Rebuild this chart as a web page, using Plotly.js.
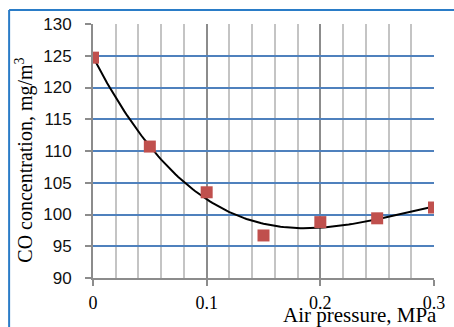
<!DOCTYPE html>
<html>
<head>
<meta charset="utf-8">
<script src="https://cdn.plot.ly/plotly-3.0.1.min.js"></script>
<style>html,body{margin:0;padding:0;background:#fff;}#chart{width:454px;height:327px;}</style>
</head>
<body>
<div id="chart"></div>
<script>
// Data
const airPressure = [0, 0.05, 0.1, 0.15, 0.2, 0.25, 0.3];
const coConcentration = [124.7, 110.7, 103.5, 96.7, 98.8, 99.4, 101.1];
const xTickVals = [0, 0.1, 0.2, 0.3];
const xTickText = ['0', '0.1', '0.2', '0.3'];
const yTickVals = [90, 95, 100, 105, 110, 115, 120, 125, 130];

// Polynomial (3rd order) trendline computed from the data, as the spreadsheet trendline does
function polyFit(xs, ys, order) {
  const n = order + 1;
  const A = [];
  for (let i = 0; i < n; i++) {
    A.push(new Array(n + 1).fill(0));
    for (let j = 0; j < n; j++) {
      A[i][j] = xs.reduce((s, x) => s + Math.pow(x, i + j), 0);
    }
    A[i][n] = xs.reduce((s, x, k) => s + Math.pow(x, i) * ys[k], 0);
  }
  for (let c = 0; c < n; c++) {
    let p = c;
    for (let r = c + 1; r < n; r++) if (Math.abs(A[r][c]) > Math.abs(A[p][c])) p = r;
    [A[c], A[p]] = [A[p], A[c]];
    for (let r = 0; r < n; r++) {
      if (r === c) continue;
      const f = A[r][c] / A[c][c];
      for (let k = c; k <= n; k++) A[r][k] -= f * A[c][k];
    }
  }
  return A.map((row, i) => row[n] / row[i]);
}
const coef = polyFit(airPressure, coConcentration, 3);
const trendX = [];
const trendY = [];
const xMin = airPressure[0], xMax = airPressure[airPressure.length - 1];
for (let i = 0; i <= 120; i++) {
  const x = xMin + (xMax - xMin) * i / 120;
  trendX.push(x);
  trendY.push(coef.reduce((s, c, k) => s + c * Math.pow(x, k), 0));
}

const data = [
  {x: trendX, y: trendY, type: 'scatter', mode: 'lines',
   line: {color: '#000000', width: 2}, hoverinfo: 'skip', showlegend: false},
  {x: airPressure, y: coConcentration, type: 'scatter', mode: 'markers',
   marker: {symbol: 'square', size: 12, color: '#c0504d'}, showlegend: false}
];

const layout = {
  width: 454, height: 327,
  margin: {l: 93, r: 20, t: 24, b: 49},
  paper_bgcolor: '#ffffff', plot_bgcolor: '#ffffff',
  showlegend: false,
  xaxis: {
    range: [0, 0.3], tickvals: xTickVals, ticktext: xTickText,
    showgrid: true, gridcolor: '#8c8c8c', gridwidth: 2,
    minor: {dtick: 0.02, showgrid: true, gridcolor: '#c4c4c4', gridwidth: 2, ticks: ''},
    showline: true, linecolor: '#8c8c8c', linewidth: 2,
    ticks: 'outside', ticklen: 6, tickwidth: 2, tickcolor: '#8c8c8c',
    ticklabelstandoff: 1,
    tickfont: {family: 'Liberation Serif, Times New Roman, serif', size: 18, color: '#000'},
    zeroline: false, fixedrange: true
  },
  yaxis: {
    range: [90, 130], tickvals: yTickVals,
    showgrid: true, gridcolor: '#4f81bd', gridwidth: 2,
    showline: true, linecolor: '#8c8c8c', linewidth: 2,
    ticks: 'outside', ticklen: 6, tickwidth: 2, tickcolor: '#8c8c8c',
    ticklabelstandoff: 10,
    tickfont: {family: 'Liberation Sans, Arial, sans-serif', size: 17, color: '#111'},
    zeroline: false, fixedrange: true
  },
  annotations: [
    {text: 'Air pressure, MPa', xref: 'paper', yref: 'paper', x: 1.015, y: -0.145,
     xanchor: 'right', yanchor: 'middle', showarrow: false,
     font: {family: 'Liberation Serif, Times New Roman, serif', size: 21, color: '#000'}},
    {text: 'CO concentration, mg/m<sup>3</sup>', xref: 'paper', yref: 'paper',
     x: -0.2, y: 0.465, xanchor: 'center', yanchor: 'middle', textangle: -90, showarrow: false,
     font: {family: 'Liberation Serif, Times New Roman, serif', size: 20, color: '#000'}}
  ],
  shapes: [
    {type: 'line', xref: 'paper', yref: 'paper', x0: -0.246, x1: 1.2, y0: 1.055, y1: 1.055,
     line: {color: '#2a7cc7', width: 2}},
    {type: 'line', xref: 'paper', yref: 'paper', x0: -0.246, x1: -0.246, y0: 1.055, y1: -0.2,
     line: {color: '#2a7cc7', width: 2}}
  ]
};

Plotly.newPlot('chart', data, layout, {displayModeBar: false, staticPlot: true});
</script>
</body>
</html>
